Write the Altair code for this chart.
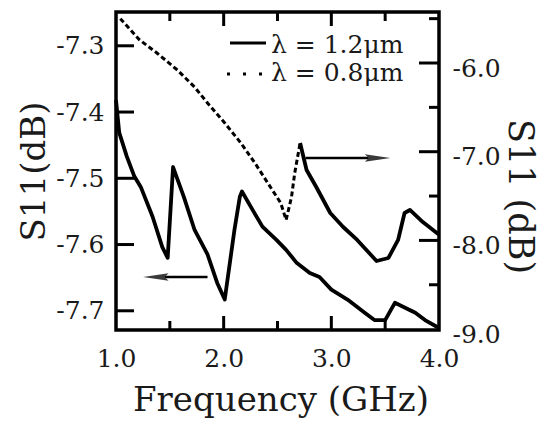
import altair as alt
import pandas as pd

# ---- data ----
# lambda = 1.2 um (left axis, solid)
freq_12 = [1.00, 1.03, 1.10, 1.17, 1.23, 1.34, 1.43, 1.48, 1.53, 1.63, 1.73, 1.85, 1.94, 2.01,
           2.10, 2.15, 2.17, 2.27, 2.36, 2.49, 2.58, 2.68, 2.80, 2.89, 3.00, 3.15, 3.31, 3.40,
           3.50, 3.59, 3.68, 3.78, 3.87, 4.00]
s11_12 = [-7.382, -7.431, -7.467, -7.497, -7.513, -7.558, -7.604, -7.620, -7.483, -7.528, -7.578,
          -7.615, -7.658, -7.683, -7.578, -7.528, -7.520, -7.548, -7.573, -7.593, -7.608, -7.628,
          -7.643, -7.649, -7.668, -7.683, -7.703, -7.714, -7.714, -7.688, -7.695, -7.703, -7.714,
          -7.726]
# lambda = 0.8 um (right axis)
freq_08 = [1.04, 1.22, 1.38, 1.57, 1.73, 1.85, 2.01, 2.16, 2.29, 2.41, 2.53, 2.58, 2.63, 2.66,
           2.71, 2.77, 2.86, 2.99, 3.11, 3.24, 3.42, 3.53, 3.62, 3.68, 3.73, 3.85, 3.98, 4.00]
s11_08 = [-5.50, -5.741, -5.887, -6.079, -6.271, -6.451, -6.676, -6.902, -7.127, -7.353, -7.578,
          -7.770, -7.511, -7.240, -6.902, -7.206, -7.398, -7.691, -7.849, -7.995, -8.232, -8.198,
          -7.995, -7.691, -7.657, -7.793, -7.917, -7.93]
dotted_until = 2.71

legend_labels = ["λ = 1.2μm", "λ = 0.8μm"]

x_labels = [1.0, 2.0, 3.0, 4.0]
x_major = [2.0, 3.0]
x_minor = [1.5, 2.5, 3.5]
left_ticks = [-7.3, -7.4, -7.5, -7.6, -7.7]
right_labels = [-6.0, -7.0, -8.0, -9.0]
right_major = [-6.0, -7.0, -8.0]
right_minor = [-5.5, -6.5, -7.5, -8.5]

left_arrow = {"x0": 1.40, "x1": 1.85, "head": 1.37, "y": -7.649}
right_arrow = {"x0": 2.76, "x1": 3.40, "head": 3.43, "y": -7.071}

# ---- layout ----
W, H = 323, 318
FONT = "DejaVu Serif"
INK = "#1a1a1a"

xs = alt.Scale(domain=[1.0, 4.0], nice=False, zero=False)
yl = alt.Scale(domain=[-7.729, -7.249], nice=False, zero=False)
yr = alt.Scale(domain=[-9.01, -5.425], nice=False, zero=False)

x_axis = alt.Axis(values=x_labels, format=".1f", labelFont=FONT, labelFontSize=25,
                  labelColor=INK, labelPadding=16, labelFlush=False, ticks=False, domain=False,
                  grid=False, title="Frequency (GHz)", titleFont=FONT, titleFontSize=34,
                  titleFontWeight="normal", titleColor=INK, titleX=W / 2 + 3, titleY=80,
                  titleBaseline="alphabetic", titleAlign="center")

left_axis = alt.Axis(orient="left", values=left_ticks, format=".1f", labelFont=FONT,
                     labelFontSize=25, labelColor=INK, labelPadding=12, labelFlush=False,
                     labelOverlap=False, ticks=False, domain=False, grid=False,
                     title="S11(dB)", titleFont=FONT, titleFontSize=34, titleFontWeight="normal",
                     titleColor=INK, titleAngle=270, titleX=-82, titleY=H / 2,
                     titleAlign="center", titleBaseline="middle")

right_axis = alt.Axis(orient="right", values=right_labels, format=".1f", labelFont=FONT,
                      labelFontSize=25, labelColor=INK, labelPadding=13, labelFlush=False,
                      labelOverlap=False, labelOffset=5, ticks=False, domain=False, grid=False,
                      title="S11 (dB)", titleFont=FONT, titleFontSize=35,
                      titleFontWeight="normal", titleColor=INK, titleAngle=90, titleX=80,
                      titleY=184, titleAlign="center", titleBaseline="middle")

df12 = pd.DataFrame({"f": freq_12, "s": s11_12})
df08a = pd.DataFrame({"f": [f for f in freq_08 if f <= dotted_until],
                      "s": [s for f, s in zip(freq_08, s11_08) if f <= dotted_until]})
df08b = pd.DataFrame({"f": [f for f in freq_08 if f >= dotted_until],
                      "s": [s for f, s in zip(freq_08, s11_08) if f >= dotted_until]})


def X(field):
    return alt.X(field, scale=xs, axis=x_axis)


def YL(field):
    return alt.Y(field, scale=yl, axis=left_axis)


def YR(field):
    return alt.Y(field, scale=yr, axis=right_axis)


def YT(field):
    # same mapping as the left scale, used only for the inner tick marks
    return alt.Y(field, scale=yl, axis=None)


def vticks(name, values, length, top):
    centre = length / 2 if top else H - length / 2
    return alt.Chart(pd.DataFrame({name: values})).mark_tick(
        color="black", thickness=3, size=length, orient="vertical", opacity=1).encode(
        x=X(f"{name}:Q"), y=alt.value(centre))


def hticks(name, values, length, yfun, right):
    centre = W - length / 2 if right else length / 2
    return alt.Chart(pd.DataFrame({name: values})).mark_tick(
        color="black", thickness=3, size=length, orient="horizontal", opacity=1).encode(
        y=yfun(f"{name}:Q"), x=alt.value(centre))


# ---- left-axis group ----
line12 = alt.Chart(df12).mark_line(color="black", strokeWidth=3.8, strokeJoin="round").encode(
    x=X("f:Q"), y=YL("s:Q"))

la_df = pd.DataFrame([left_arrow])
la_line = alt.Chart(la_df).mark_rule(color="black", strokeWidth=2.5).encode(
    x=X("x0:Q"), x2="x1:Q", y=YL("y:Q"))
la_head = alt.Chart(la_df).mark_point(shape="M -1 0 L 1 -0.3 L 0.7 0 L 1 0.3 Z", filled=True,
                                      size=650, color="#3a3a3a", opacity=1).encode(
    x=X("head:Q"), y=YL("y:Q"))

leg1_line = alt.Chart(pd.DataFrame({"t": [legend_labels[0]]})).mark_rule(
    color="black", strokeWidth=3.2).encode(x=alt.value(114), x2=alt.value(150), y=alt.value(31))
leg1_text = alt.Chart(pd.DataFrame({"t": [legend_labels[0]]})).mark_text(
    align="left", baseline="middle", font=FONT, fontSize=25, color=INK).encode(
    text="t:N", x=alt.value(155), y=alt.value(33))
leg2_line = alt.Chart(pd.DataFrame({"t": [legend_labels[1]]})).mark_rule(
    color="black", strokeWidth=3, strokeDash=[3, 13]).encode(
    x=alt.value(111), x2=alt.value(152), y=alt.value(62))
leg2_text = alt.Chart(pd.DataFrame({"t": [legend_labels[1]]})).mark_text(
    align="left", baseline="middle", font=FONT, fontSize=25, color=INK).encode(
    text="t:N", x=alt.value(155), y=alt.value(61))

left_group = alt.layer(line12, la_line, la_head, leg1_line, leg1_text, leg2_line, leg2_text)

# ---- right-axis group ----
line08a = alt.Chart(df08a).mark_line(color="black", strokeWidth=3, strokeDash=[5, 3]).encode(
    x=X("f:Q"), y=YR("s:Q"))
line08b = alt.Chart(df08b).mark_line(color="black", strokeWidth=3.8, strokeJoin="round").encode(
    x=X("f:Q"), y=YR("s:Q"))
rt_major = hticks("rmaj", right_major, 20, YR, right=True)
rt_minor = hticks("rmin", right_minor, 10, YR, right=True)

ra_df = pd.DataFrame([right_arrow])
ra_line = alt.Chart(ra_df).mark_rule(color="black", strokeWidth=2.5).encode(
    x=X("x0:Q"), x2="x1:Q", y=YR("y:Q"))
ra_head = alt.Chart(ra_df).mark_point(shape="M 1 0 L -1 -0.3 L -0.7 0 L -1 0.3 Z", filled=True,
                                      size=650, color="#3a3a3a", opacity=1).encode(
    x=X("head:Q"), y=YR("y:Q"))

right_group = alt.layer(line08a, line08b, rt_major, rt_minor, ra_line, ra_head)

# ---- inner tick marks on the left, bottom and top frame edges ----
tick_group = alt.layer(
    hticks("lt", left_ticks, 18, YT, right=False),
    vticks("bmaj", x_major, 14, top=False),
    vticks("bmin", x_minor, 9, top=False),
    vticks("tmaj", x_major, 14, top=True),
    vticks("tmin", x_minor, 9, top=True),
)

chart = alt.layer(left_group, right_group, tick_group).resolve_scale(y="independent").properties(
    width=W, height=H,
    padding={"left": 116, "top": 12, "right": 544 - 116 - W, "bottom": 421 - 12 - H},
    autosize=alt.AutoSizeParams(type="none"),
    background="white",
).configure(
    locale={"number": {"decimal": ".", "thousands": ",", "grouping": [3],
                       "currency": ["", ""], "minus": "-"}},
    view={"stroke": "black", "strokeWidth": 3.5},
)

chart.save("out.html", embed_options={"renderer": "svg", "actions": False})
